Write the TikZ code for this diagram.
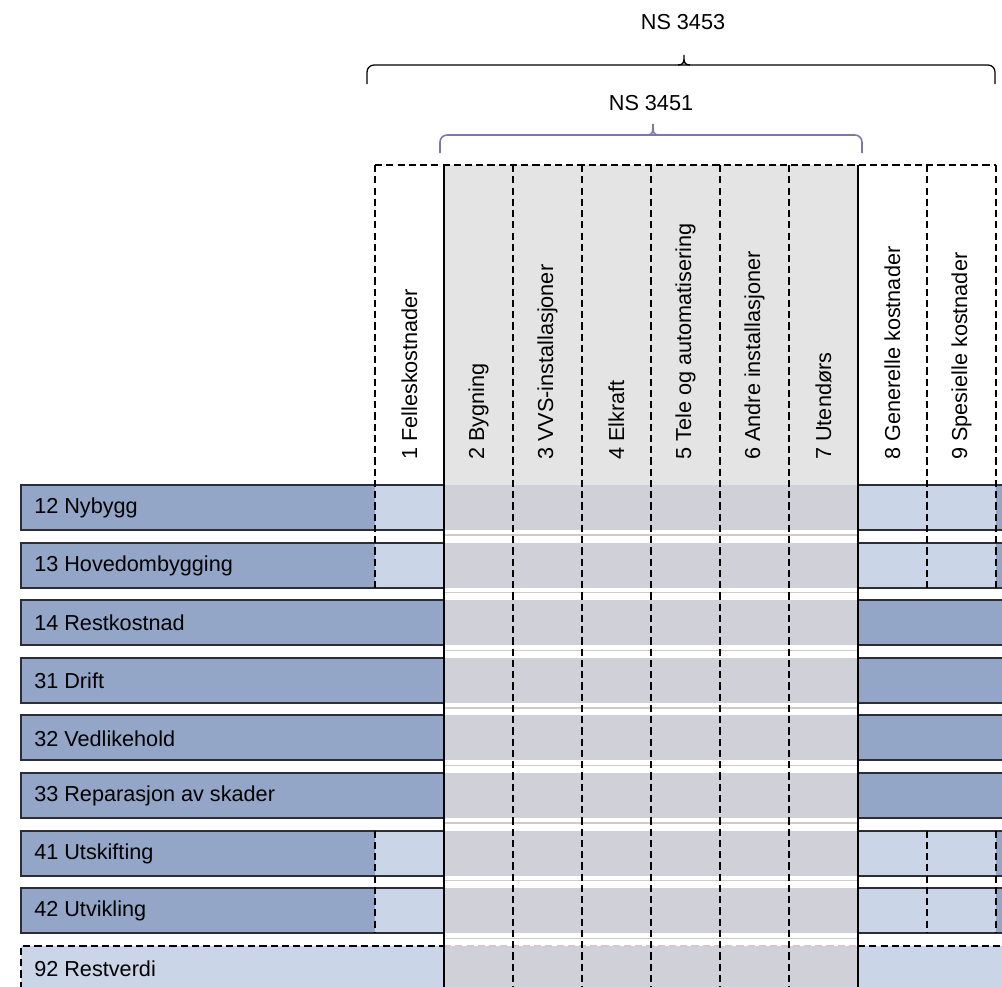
\documentclass[tikz,border=0pt]{standalone}
\usepackage{fontspec}
\setmainfont{Liberation Sans}
\definecolor{rowdark}{RGB}{147, 166, 200}
\definecolor{rowlight}{RGB}{202, 213, 232}
\definecolor{cellgray}{RGB}{208, 208, 217}
\definecolor{headgray}{RGB}{228, 228, 228}
\definecolor{gapline}{RGB}{214, 200, 200}
\definecolor{rowline}{RGB}{45, 45, 55}
\definecolor{bracegray}{RGB}{125, 120, 165}
\usepackage{tikz}

\begin{document}
\begin{tikzpicture}[x=0.025cm, y=-0.025cm,
  rowlabel/.style={anchor=west, inner sep=0pt, font=\fontsize{15.4}{18}\selectfont},
  collabel/.style={rotate=90, anchor=west, inner sep=0pt, font=\fontsize{15.4}{18}\selectfont},
  rowbox/.style={draw=rowline, line width=1.5pt},
  coldash/.style={line width=1.1pt, dash pattern=on 5pt off 3pt},
  gridline/.style={line width=1.1pt}]

  \clip (0,0) rectangle (1002,987);
  \fill[white] (0,0) rectangle (1002,987);

  % NS 3453 brace
  \node[font=\fontsize{15.4}{18}\selectfont] (ns3453) at (683,22) {NS 3453};
  \draw[line width=0.9pt, rounded corners=5pt] (367,84) -- (367,65) -- (995,65) -- (995,84);
  \draw[line width=0.9pt] (678,65) .. controls (684,65) and (684,62) .. (684,55)
    .. controls (684,62) and (684,65) .. (690,65);

  % NS 3451 brace
  \node[font=\fontsize{15.4}{18}\selectfont] (ns3451) at (651,103) {NS 3451};
  \draw[bracegray, line width=1.1pt, rounded corners=5pt] (440,153) -- (440,135) -- (862,135) -- (862,153);
  \draw[bracegray, line width=1.1pt] (647,135) .. controls (653,135) and (653,132) .. (653,124)
    .. controls (653,132) and (653,135) .. (659,135);

  % Header and middle columns
  \fill[headgray] (444,165) rectangle (858,485);
  \fill[cellgray] (444,485) rectangle (858,1000);
  \foreach \i in {0,...,7} {
    \fill[white] (444,{485+57.6*\i+45}) rectangle (858,{485+57.6*(\i+1)});
    \draw[gapline, line width=1pt] (444,{485+57.6*\i+50}) -- (858,{485+57.6*\i+50});
  }
  \draw[gapline, line width=1pt, dash pattern=on 5pt off 3pt] (444,946) -- (858,946);

  % Rows with own cells in columns 1, 8 and 9
  \foreach \i in {0,1,6,7} {
    \fill[rowdark] (21,{485+57.6*\i}) rectangle (375,{530+57.6*\i});
    \fill[rowlight] (375,{485+57.6*\i}) rectangle (444,{530+57.6*\i});
    \draw[rowbox] (21,{485+57.6*\i}) rectangle (444,{530+57.6*\i});
    \fill[rowlight] (858,{485+57.6*\i}) rectangle (996,{530+57.6*\i});
    \fill[rowdark] (996,{485+57.6*\i}) rectangle (1010,{530+57.6*\i});
    \draw[rowbox] (1010,{485+57.6*\i}) -- (858,{485+57.6*\i}) -- (858,{530+57.6*\i}) -- (1010,{530+57.6*\i});
  }

  % Rows across the whole of columns 1, 8 and 9
  \foreach \i in {2,...,5} {
    \fill[rowdark] (21,{485+57.6*\i}) rectangle (444,{530+57.6*\i});
    \draw[rowbox] (21,{485+57.6*\i}) rectangle (444,{530+57.6*\i});
    \fill[rowdark] (858,{485+57.6*\i}) rectangle (1010,{530+57.6*\i});
    \draw[rowbox] (1010,{485+57.6*\i}) -- (858,{485+57.6*\i}) -- (858,{530+57.6*\i}) -- (1010,{530+57.6*\i});
  }

  % Restverdi
  \fill[rowlight] (21,946) rectangle (444,1000);
  \fill[rowlight] (858,946) rectangle (1010,1000);
  \draw[coldash] (21,1000) -- (21,946) -- (444,946);
  \draw[coldash] (858,946) -- (1010,946);

  % Column lines
  \draw[coldash] (375,165) -- (996,165);
  \foreach \x in {375,927,996} {
    \draw[coldash] (\x,165) -- (\x,{530+57.6});
    \draw[coldash] (\x,{485+57.6*6}) -- (\x,{530+57.6*7});
  }
  \foreach \x in {513,582,651,720,789} \draw[coldash] (\x,165) -- (\x,1000);
  \draw[gridline] (444,165) -- (444,1000);
  \draw[gridline] (858,165) -- (858,1000);

  % Column labels
  \foreach \k/\lab in {1/1 Felleskostnader, 2/2 Bygning, 3/3 VVS-installasjoner, 4/4 Elkraft,
      5/5 Tele og automatisering, 6/6 Andre installasjoner, 7/7 Utendørs,
      8/8 Generelle kostnader, 9/9 Spesielle kostnader}
    \node[collabel] (c\k) at ({375+69*(\k-0.5)}, 460) {\lab};

  % Row labels
  \foreach \i/\lab/\nm in {0/12 Nybygg/r12, 1/13 Hovedombygging/r13, 2/14 Restkostnad/r14,
      3/31 Drift/r31, 4/32 Vedlikehold/r32, 5/33 Reparasjon av skader/r33,
      6/41 Utskifting/r41, 7/42 Utvikling/r42, 8/92 Restverdi/r92}
    \node[rowlabel] (\nm) at (34, {485+57.6*\i+23}) {\lab};
\end{tikzpicture}
\end{document}
